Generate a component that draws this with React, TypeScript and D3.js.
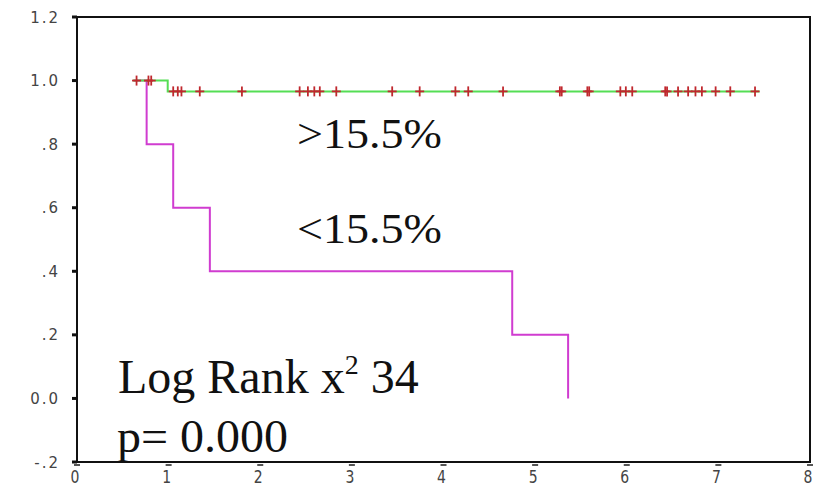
import React from "react"
import * as d3 from "d3"

// Kaplan-Meier steps
const lowTimes = [0.62, 0.76, 1.05, 1.45, 4.75, 5.36]
const lowSurv = [1.0, 0.8, 0.6, 0.4, 0.2, 0.0]

const highTimes = [0.61, 0.99, 7.45]
const highSurv = [1.0, 0.966, 0.966]

// censored cases (+ marks)
const censorTop = [0.65, 0.78, 0.81]
const censorLow = [
  1.05, 1.1, 1.14, 1.34, 1.8, 2.43, 2.52, 2.59, 2.65, 2.83, 3.44, 3.74,
  4.13, 4.27, 4.65, 5.27, 5.29, 5.57, 5.59, 5.93, 5.99, 6.06, 6.42, 6.44,
  6.56, 6.67, 6.75, 6.82, 6.97, 7.13, 7.4,
]

const yTicks = [1.2, 1.0, 0.8, 0.6, 0.4, 0.2, 0.0, -0.2]
const yTickLabels = ["1.2", "1.0", ".8", ".6", ".4", ".2", "0.0", "-.2"]
const xTicks = [0, 1, 2, 3, 4, 5, 6, 7, 8]

const W = 827
const H = 486
const left = 77
const right = 810
const top = 17
const bottom = 462

const App: React.FC = () => {
  const x = d3.scaleLinear().domain([0, 8]).range([left, right])
  const y = d3.scaleLinear().domain([-0.2, 1.2]).range([bottom, top])

  const line = d3.line<[number, number]>()
    .x(d => x(d[0]))
    .y(d => y(d[1]))
    .curve(d3.curveStepAfter)

  const lowPts = lowTimes.map((t, i) => [t, lowSurv[i]] as [number, number])
  const highPts = highTimes.map((t, i) => [t, highSurv[i]] as [number, number])

  const cross = (t: number, s: number, k: string) => {
    const cx = x(t)
    const cy = y(s)
    return (
      <g key={k} stroke="#c0282e" strokeWidth={1.8}>
        <line x1={cx - 4.5} x2={cx + 4.5} y1={cy} y2={cy} />
        <line x1={cx} x2={cx} y1={cy - 5} y2={cy + 5} />
      </g>
    )
  }

  const sans = "DejaVu Sans, Verdana, sans-serif"

  return (
    <svg width={W} height={H} style={{ position: "absolute", left: 0, top: 0, background: "#fff" }}>
      {/* frame */}
      <rect x={left} y={top} width={right - left} height={bottom - top} fill="none" stroke="#111" strokeWidth={2} />

      {/* y axis */}
      {yTicks.map((v, i) => (
        <g key={"y" + i}>
          <rect x={left - 5} y={y(v) - 1.5} width={5} height={3} fill="#111" />
          <text x={60} y={y(v) + 5.5} textAnchor="end" fontFamily={sans} fontSize={15} letterSpacing={2} fill="#444">
            {yTickLabels[i]}
          </text>
        </g>
      ))}

      {/* x axis */}
      {xTicks.map(v => (
        <g key={"x" + v}>
          <rect x={x(v) - 3} y={bottom + 2} width={6} height={2} fill="#555" />
          <text transform={`translate(${x(v) - 2},${bottom + 21}) scale(1,1.3)`} textAnchor="middle" fontFamily={sans} fontSize={14} fill="#444">
            {v}
          </text>
        </g>
      ))}

      {/* curves */}
      <path d={line(lowPts) ?? ""} fill="none" stroke="#d03cd0" strokeWidth={2} />
      <path d={line(highPts) ?? ""} fill="none" stroke="#55de55" strokeWidth={2} />

      {censorTop.map((t, i) => cross(t, 1.0, "ct" + i))}
      {censorLow.map((t, i) => cross(t, 0.966, "cl" + i))}

      {/* annotations */}
      <g fontFamily="Liberation Serif, Times New Roman, serif" fill="#111">
        <text x={297} y={148} fontSize={43} textLength={145} lengthAdjust="spacingAndGlyphs">&gt;15.5%</text>
        <text x={297} y={243} fontSize={43} textLength={145} lengthAdjust="spacingAndGlyphs">&lt;15.5%</text>
        <text x={118} y={393} fontSize={48}>
          Log Rank x
          <tspan fontSize={28} dy={-19}>2</tspan>
          <tspan dy={19}> 34</tspan>
        </text>
        <text x={117} y={452} fontSize={46} textLength={171} lengthAdjust="spacingAndGlyphs">p= 0.000</text>
      </g>
    </svg>
  )
}

export default App
